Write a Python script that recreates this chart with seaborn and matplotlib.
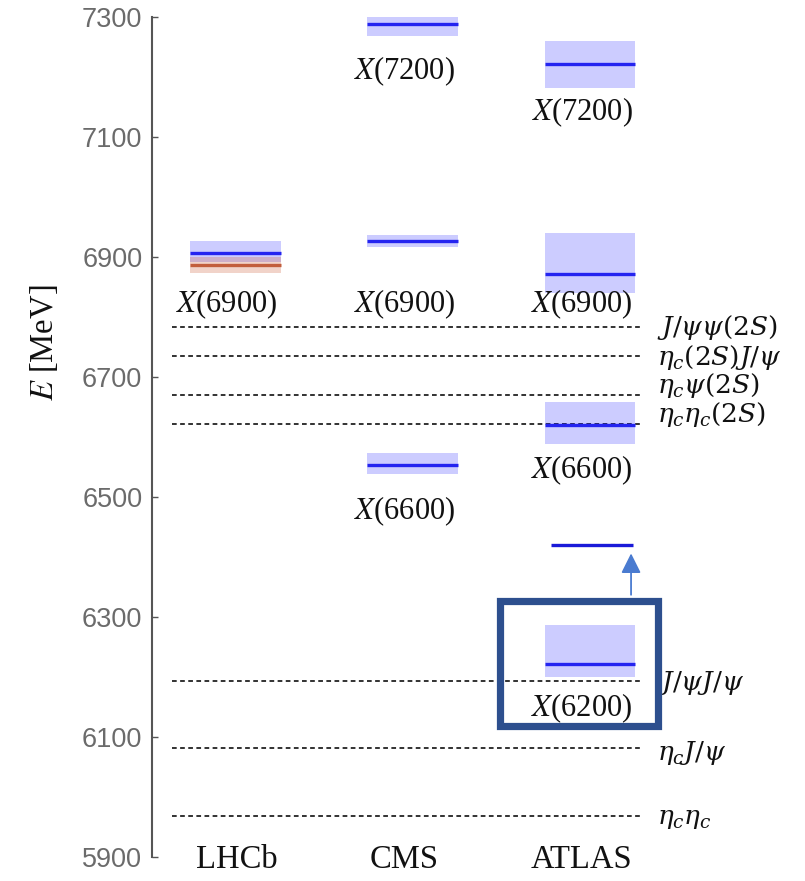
import matplotlib
matplotlib.use("Agg")
import matplotlib.pyplot as plt
from matplotlib.patches import Rectangle
import seaborn as sns
import pandas as pd

# Experiments along the horizontal axis
experiments = ["LHCb", "CMS", "ATLAS"]

# Fitted resonances: experiment, fit model, central mass and asymmetric uncertainties (MeV)
state_exp = ["LHCb", "LHCb", "CMS", "CMS", "CMS", "ATLAS", "ATLAS", "ATLAS", "ATLAS"]
state_model = ["I", "II", "I", "I", "I", "I", "I", "I", "I"]
state_mass = [6906, 6887, 7288, 6927, 6553, 7222, 6872, 6620, 6221]
state_up = [20, 13, 17, 10, 20, 38, 68, 38, 66]
state_down = [15, 14, 20, 10, 15, 41, 32, 32, 21]

# Resonance names written under the bands
label_exp = ["LHCb", "CMS", "CMS", "CMS", "ATLAS", "ATLAS", "ATLAS", "ATLAS"]
label_text = ["6900", "7200", "6900", "6600", "7200", "6900", "6600", "6200"]
label_y = [6822, 7210, 6822, 6477, 7142, 6822, 6545, 6148]

# Shifted ATLAS state (6200 moved up to 6420)
shift_exp = "ATLAS"
shift_from = 6326
shift_to = 6420

# Di-charmonium thresholds (MeV)
thr_names = [r"$J/\psi\psi(2S)$", r"$\eta_c(2S)J/\psi$", r"$\eta_c\psi(2S)$",
             r"$\eta_c\eta_c(2S)$", r"$J/\psi J/\psi$", r"$\eta_c J/\psi$", r"$\eta_c\eta_c$"]
thr_mass = [6783, 6735, 6670, 6622, 6194, 6081, 5968]
thr_label_y = [6782, 6733, 6685, 6637, 6190, 6073, 5962]

yticks = [5900, 6100, 6300, 6500, 6700, 6900, 7100, 7300]

states = pd.DataFrame({"exp": state_exp, "model": state_model, "mass": state_mass,
                       "up": state_up, "down": state_down})
states["x"] = states["exp"].map({e: i for i, e in enumerate(experiments)})
thresholds = pd.DataFrame({"name": thr_names, "mass": thr_mass, "label_y": thr_label_y})

sns.set_theme(style="ticks")
plt.rcParams["mathtext.fontset"] = "stix"
plt.rcParams["font.family"] = ["Liberation Serif", "DejaVu Serif"]

fig = plt.figure(figsize=(8.05, 8.81), dpi=100)
W, H = 805, 881
ax = fig.add_axes([152 / W, (H - 857) / H, (W - 152) / W, 840 / H])

half = 0.256
band_colors = {"I": "#0000ff", "II": "#d0643f"}
line_colors = {"I": "#2424f0", "II": "#c25e3c"}
band_alpha = {"I": 0.2, "II": 0.28}

# uncertainty bands
for _, r in states.iterrows():
    ax.fill_between([r.x - half, r.x + half], r.mass - r.down, r.mass + r.up,
                    color=band_colors[r.model], alpha=band_alpha[r.model],
                    linewidth=0, zorder=2)
# central values
for _, r in states.iterrows():
    ax.hlines(r.mass, r.x - half, r.x + half, color=line_colors[r.model],
              linewidth=2.4, zorder=3)

# thresholds
xt0, xt1 = -0.355, 2.281
for _, t in thresholds.iterrows():
    ax.hlines(t.mass, xt0, xt1, color="#222222", linewidth=1.3,
              linestyles=(0, (2.6, 1.9)), zorder=1)
    ax.text(2.377, t.label_y, t["name"], fontsize=19, va="center", ha="left",
            color="#111111", clip_on=False, math_fontfamily="dejavuserif")

# resonance labels
xi = {e: i for i, e in enumerate(experiments)}
for e, txt, y in zip(label_exp, label_text, label_y):
    ax.text(xi[e] - 0.045, y, r"$X$(" + txt + ")", fontsize=22, ha="center",
            va="center", color="#111111")

# shifted ATLAS state with arrow and highlight frame
xs = xi[shift_exp]
ax.hlines(shift_to, xs - 0.232 + 0.01, xs + 0.232 + 0.01, color="#1a1ad8",
          linewidth=2.4, zorder=3)
ax.annotate("", xy=(xs + 0.231, shift_to - 14), xytext=(xs + 0.231, shift_from + 11),
            arrowprops=dict(arrowstyle="-|>,head_length=1.0,head_width=0.5",
                            color="#4a7bd0", lw=1.3, shrinkA=0, shrinkB=0))
ax.add_patch(Rectangle((1.495, 6119), 2.385 - 1.495, 6326 - 6119, fill=False,
                       edgecolor="#2d4f8e", linewidth=5.2, zorder=4, clip_on=False))

# experiment names
name_shift = [0.01, -0.05, -0.05]
for i, e in enumerate(experiments):
    ax.text(i + name_shift[i], 5895, e, fontsize=23.5, ha="center", va="center",
            color="#111111")

ax.set_xlim(-0.468, 3.211)
ax.set_ylim(5900, 7300)
ax.set_xticks([])
ax.set_yticks(yticks)
ax.set_yticklabels([str(v) for v in yticks], fontfamily="Liberation Sans",
                   fontsize=19.5, color="#6b6b6b")
ax.tick_params(axis="y", direction="in", length=4, width=1.0, pad=7, color="#555555")
sns.despine(ax=ax, top=True, right=True, bottom=True)
ax.spines["left"].set_color("#555555")
ax.spines["left"].set_linewidth(1.5)
ax.set_ylabel(r"$E$ [MeV]", fontsize=23.5, color="#111111")
ax.yaxis.set_label_coords(-0.141, 0.612)

fig.savefig("out.png", dpi=100)
